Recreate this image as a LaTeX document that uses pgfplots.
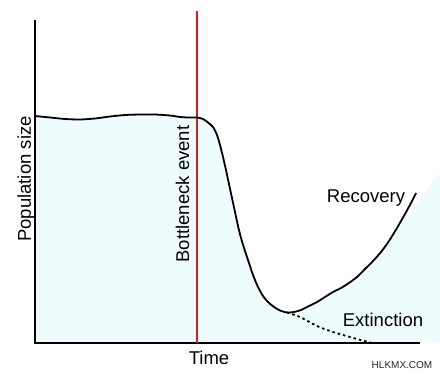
\documentclass[border=0pt]{standalone}
\usepackage{fontspec}
\setmainfont{Liberation Sans}
\usepackage{pgfplots}
\pgfplotsset{compat=1.18}
\definecolor{cyanfill}{RGB}{238,252,253}
\definecolor{bred}{RGB}{206,30,34}
\begin{document}
\begin{tikzpicture}
\begin{axis}[
  scale only axis, width=440pt, height=373pt,
  xmin=-35, xmax=405, ymin=-30, ymax=343,
  hide axis, clip=false,
]
% bounding
\addplot[draw=none] coordinates {(-35,-30) (405,343)};
% fill under population curve
\addplot[fill=cyanfill, draw=none] coordinates {
(0,0) (0,227) (15,225.5) (30,224) (45,223.5) (60,224.5) (75,226.5) (90,228) (105,228.5)
(120,228.5) (135,227.5) (145,226) (153,225.5) (162,225.5) (168,224) (173,220.5) (178,216)
(182,208) (185,198) (188,186) (191,173) (194,159) (197,145) (200,131) (203,117) (206,105)
(210,92) (214,80) (218,68) (223,56) (228,47) (233,41) (239,36) (245,32.5) (252,30.5)
(259,31) (266,33) (274,37) (282,41) (290,46) (298,51) (306,55) (314,60) (322,66) (330,74)
(338,82) (346,91) (350,97) (405,170) (405,0)} --cycle;
% axes
\addplot[black, line width=2pt] coordinates {(0,323) (0,0) (385,0)};
% bottleneck line
\addplot[bred, line width=1.8pt] coordinates {(162,0) (162,332)};
% population curve
\addplot[black, line width=1.8pt, smooth, tension=0.4] coordinates {
(0,227) (15,225.5) (30,224) (45,223.5) (60,224.5) (75,226.5) (90,228) (105,228.5)
(120,228.5) (135,227.5) (145,226) (153,225.5) (162,225.5) (168,224) (173,220.5) (178,216)
(182,208) (185,198) (188,186) (191,173) (194,159) (197,145) (200,131) (203,117) (206,105)
(210,92) (214,80) (218,68) (223,56) (228,47) (233,41) (239,36) (245,32.5) (252,30.5)
(259,31) (266,33) (274,37) (282,41) (290,46) (298,51) (306,55) (314,60) (322,66) (330,74)
(338,82) (346,91) (354,102) (362,115) (370,129) (376,140) (381,150)};
% extinction branch
\addplot[black, line width=1.8pt, smooth, dash pattern=on 2.5pt off 3pt] coordinates {
(252,30.5) (265,26) (282,17) (295,12) (308,8) (322,4) (337,0)};
% labels
\node[rotate=90, anchor=base, font=\fontsize{18.5}{22}\selectfont] at (axis cs:-4,164) {Population size};
\node[rotate=90, anchor=base, font=\fontsize{18.5}{22}\selectfont] at (axis cs:154,149) {Bottleneck event};
\node[anchor=base, font=\fontsize{18.5}{22}\selectfont] at (axis cs:174,-21) {Time};
\node[anchor=base, font=\fontsize{18.5}{22}\selectfont] at (axis cs:331,140) {Recovery};
\node[anchor=base, font=\fontsize{18.5}{22}\selectfont] at (axis cs:348,16) {Extinction};
\node[anchor=base, font=\fontsize{10}{12}\selectfont, text=black!85] at (axis cs:367,-25) {HLKMX.COM};
\end{axis}
\end{tikzpicture}
\end{document}
